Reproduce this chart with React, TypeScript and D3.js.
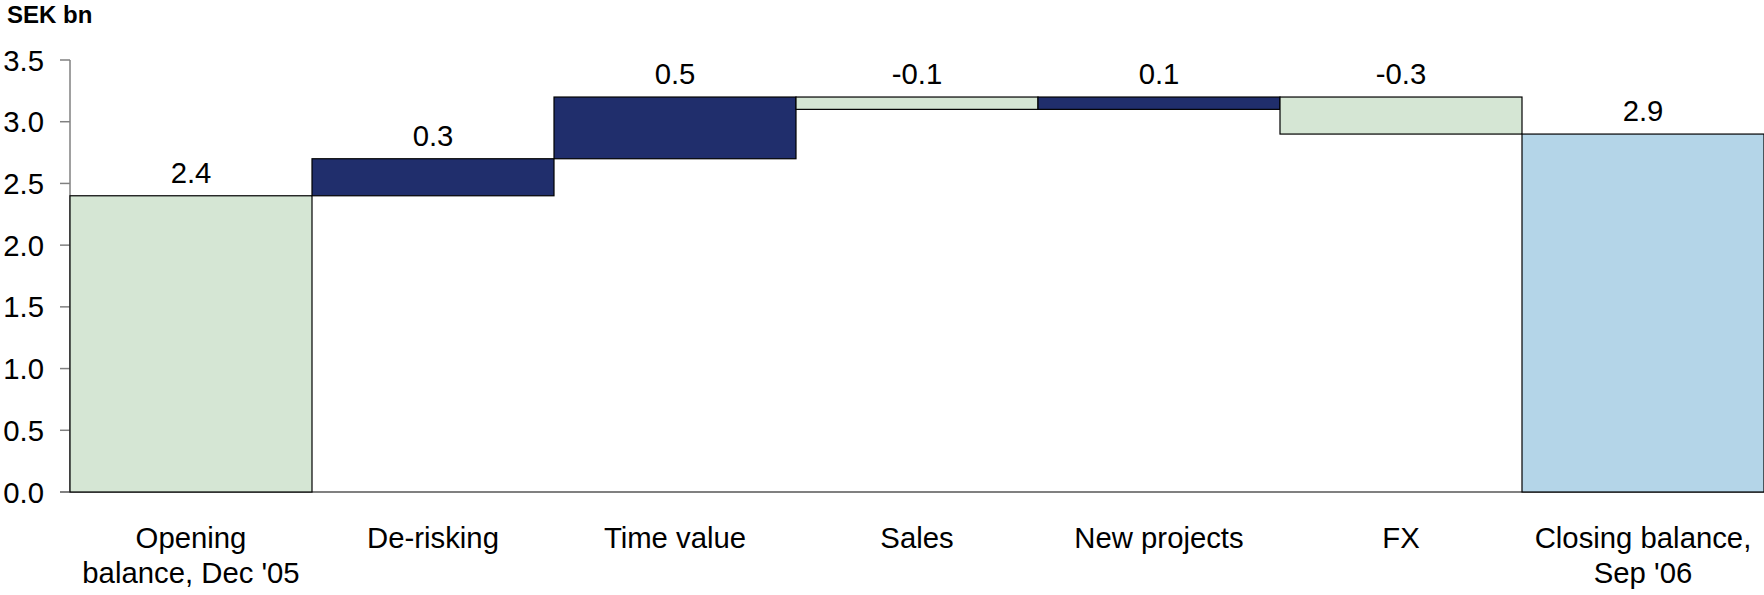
import React from "react";
import * as d3 from "d3";

const categories: string[][] = [
  ["Opening", "balance, Dec '05"],
  ["De-risking"],
  ["Time value"],
  ["Sales"],
  ["New projects"],
  ["FX"],
  ["Closing balance,", "Sep '06"],
];
const values: number[] = [2.4, 0.3, 0.5, -0.1, 0.1, -0.3, 2.9];
const kinds: string[] = ["open", "delta", "delta", "delta", "delta", "delta", "close"];
const yTicks: number[] = [0, 0.5, 1.0, 1.5, 2.0, 2.5, 3.0, 3.5];
const unitLabel = "SEK bn";

const W = 1764;
const H = 595;
const FONT = "'Liberation Sans', Arial, sans-serif";
const FS = 29.3;

export default function App() {
  const x = d3
    .scaleBand<number>()
    .domain(values.map((_, i) => i))
    .range([70, 1764])
    .padding(0);
  const y = d3.scaleLinear().domain([0, 3.5]).range([492, 60]);

  let cum = 0;
  const bars = values.map((v, i) => {
    let lo: number, hi: number;
    if (kinds[i] === "delta") {
      const start = cum;
      cum += v;
      lo = Math.min(start, cum);
      hi = Math.max(start, cum);
    } else {
      lo = 0;
      hi = v;
      cum = v;
    }
    let fill = "#D5E6D4";
    if (kinds[i] === "close") fill = "#B4D5E8";
    else if (kinds[i] === "delta" && v > 0) fill = "#202E6C";
    return { i, v, lo, hi, fill };
  });

  return (
    <svg
      width={W}
      height={H}
      style={{ position: "absolute", left: 0, top: 0, background: "#fff" }}
      fontFamily={FONT}
    >
      <text x={7} y={23} fontSize={24} fontWeight="bold" fill="#000">
        {unitLabel}
      </text>

      {/* y axis */}
      <line x1={70} x2={70} y1={y(3.5)} y2={y(0)} stroke="#808080" strokeWidth={1.5} />
      {yTicks.map((t) => (
        <g key={t}>
          <line x1={60} x2={70} y1={y(t)} y2={y(t)} stroke="#808080" strokeWidth={1.5} />
          <text
            x={44}
            y={y(t)}
            dy="0.36em"
            textAnchor="end"
            fontSize={FS}
            fill="#000"
          >
            {t.toFixed(1)}
          </text>
        </g>
      ))}

      {/* x axis */}
      <line x1={60} x2={W} y1={y(0)} y2={y(0)} stroke="#808080" strokeWidth={2} />

      {bars.map((b) => {
        const x0 = x(b.i)!;
        const bw = x.bandwidth();
        return (
          <g key={b.i}>
            <rect
              x={x0}
              y={y(b.hi)}
              width={bw}
              height={y(b.lo) - y(b.hi)}
              fill={b.fill}
              stroke="#000"
              strokeWidth={1.2}
            />
            <text
              x={x0 + bw / 2}
              y={y(b.hi) - 13}
              textAnchor="middle"
              fontSize={FS}
              fill="#000"
            >
              {b.v.toFixed(1)}
            </text>
          </g>
        );
      })}

      {categories.map((lines, i) => (
        <text
          key={i}
          x={x(i)! + x.bandwidth() / 2}
          y={548}
          textAnchor="middle"
          fontSize={FS}
          fill="#000"
        >
          {lines.map((l, k) => (
            <tspan key={k} x={x(i)! + x.bandwidth() / 2} dy={k === 0 ? 0 : 35}>
              {l}
            </tspan>
          ))}
        </text>
      ))}
    </svg>
  );
}
